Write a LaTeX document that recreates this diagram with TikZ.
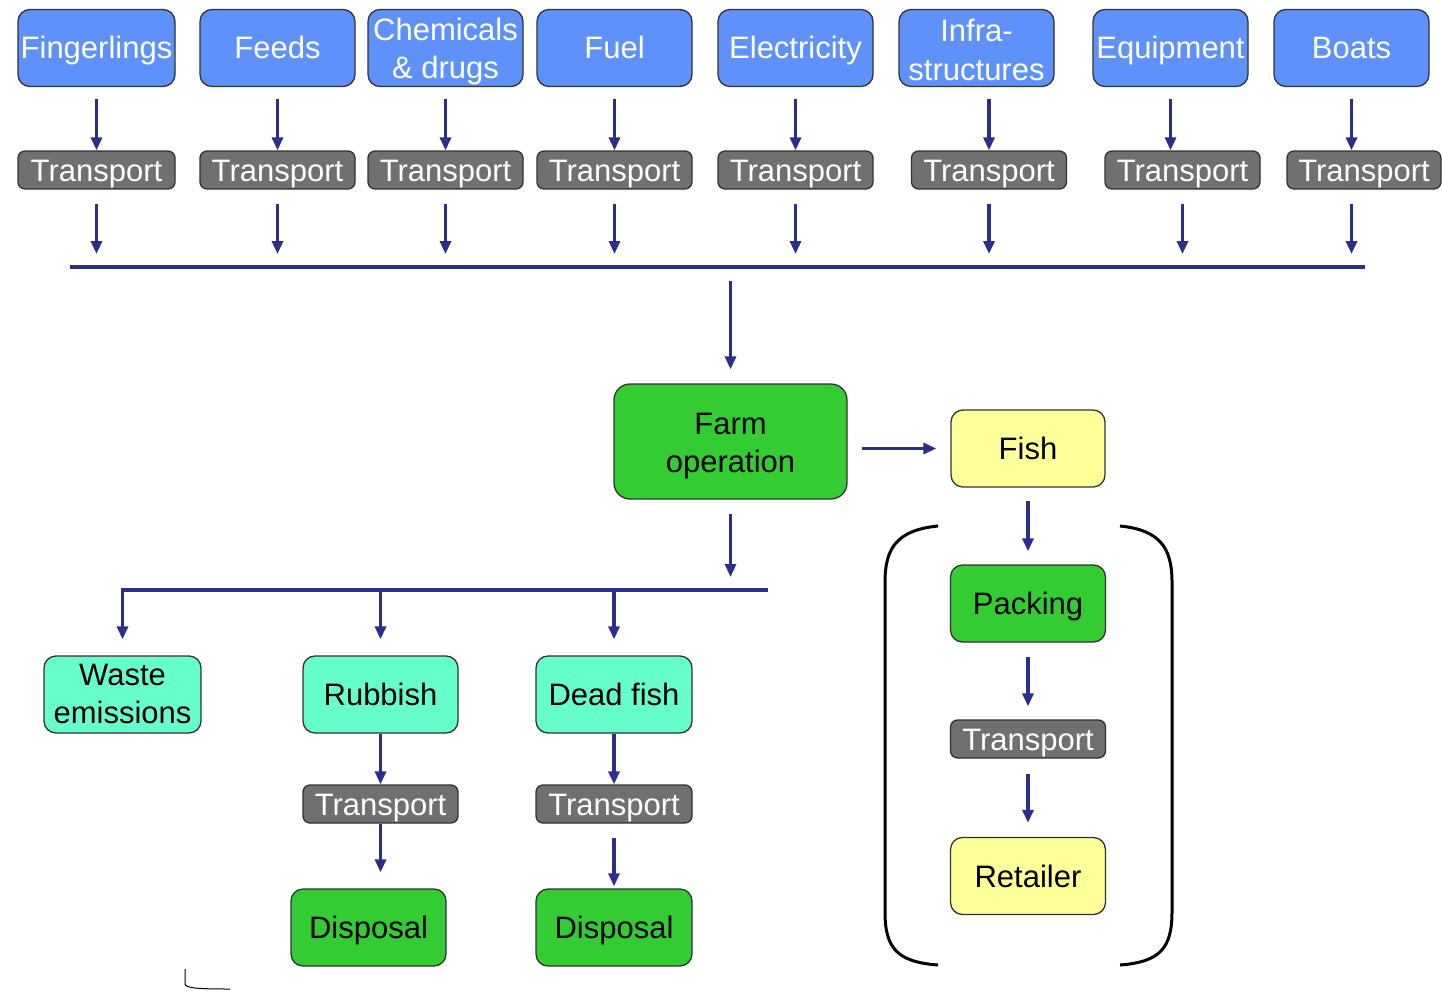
\documentclass[tikz,border=0pt]{standalone}
\usepackage{fontspec}
\setmainfont{Liberation Sans}
\usetikzlibrary{arrows.meta}
\definecolor{inblue}{RGB}{94,146,250}
\definecolor{tgray}{RGB}{112,112,112}
\definecolor{navy}{RGB}{44,46,142}
\definecolor{fgreen}{RGB}{51,204,51}
\definecolor{aqua}{RGB}{102,255,204}
\definecolor{pyellow}{RGB}{255,255,153}
\definecolor{rimcol}{RGB}{50,50,50}

\begin{document}
\begin{tikzpicture}[x=1pt,y=-1pt,
  box/.style={draw=rimcol, line width=1.3pt, rounded corners=12pt, inner sep=0pt,
    minimum width=155pt, minimum height=77pt, align=center,
    font=\fontsize{31}{38}\selectfont},
  one/.style={text height=22pt, text depth=0pt},
  % two lines: the box height is measured down to the last baseline
  two/.style={text height=#1, text depth=0pt},
  inbox/.style={box, fill=inblue, text=white},
  tbox/.style={box, fill=tgray, text=white, minimum height=38pt, rounded corners=7pt, one},
  gbox/.style={box, fill=fgreen, text=black},
  abox/.style={box, fill=aqua, text=black},
  ybox/.style={box, fill=pyellow, text=black},
  arr/.style={draw=navy, line width=3.6pt, -{Triangle[length=13pt,width=11pt]}},
  bus/.style={draw=navy, line width=3.6pt},
  brace/.style={draw=black, line width=3pt},
]
\useasboundingbox (0,0) rectangle (1442,990);

% input boxes
\node[inbox, one, minimum width=157pt] (b1) at (96.5,48) {Fingerlings};
\node[inbox, one] (b2) at (277.5,48) {Feeds};
\node[inbox, two=60pt] (b3) at (445.5,48) {Chemicals\\\& drugs};
\node[inbox, one] (b4) at (614.5,48) {Fuel};
\node[inbox, one] (b5) at (795.5,48) {Electricity};
\node[inbox, two=64pt] (b6) at (976.5,48) {Infra-\\structures};
\node[inbox, one] (b7) at (1170.5,48) {Equipment};
\node[inbox, one] (b8) at (1351.5,48) {Boats};

% transport of each input
\node[tbox, minimum width=157pt] (t1) at (96.5,170) {Transport};
\node[tbox] (t2) at (277.5,170) {Transport};
\node[tbox] (t3) at (445.5,170) {Transport};
\node[tbox] (t4) at (614.5,170) {Transport};
\node[tbox] (t5) at (795.5,170) {Transport};
\node[tbox] (t6) at (989,170) {Transport};
\node[tbox] (t7) at (1182.5,170) {Transport};
\node[tbox, minimum width=154pt] (t8) at (1364,170) {Transport};

% collecting line
\coordinate (busL) at (70,267);
\coordinate (busR) at (1365,267);
\draw[bus] (busL) -- (busR);

% input -> transport
\foreach \i in {1,...,5}{
  \draw[arr, shorten <=12pt] (b\i.south) -- (t\i.north);
}
\draw[arr, shorten <=12pt] (t6.north |- b6.south) -- (t6.north);
\draw[arr, shorten <=12pt] (b7.south) -- (b7.south |- t7.north);
\draw[arr, shorten <=12pt] (b8.south) -- (b8.south |- t8.north);

% transport -> collecting line
\foreach \i in {1,...,7}{
  \draw[arr, shorten <=14pt, shorten >=13pt] (t\i.south) -- (t\i.south |- busL);
}
\draw[arr, shorten <=14pt, shorten >=13pt] (b8.south |- t8.south) -- (b8.south |- busL);

% farm and products
\node[gbox, minimum width=233pt, minimum height=115pt, rounded corners=16pt, two=61pt] (farm) at (730.5,441.5) {Farm\\operation};
\node[ybox, one, minimum width=154pt] (fish) at (1028,448.5) {Fish};

\draw[arr, shorten <=14pt, shorten >=14pt] (farm.north |- busL) -- (farm.north);
\draw[arr, shorten <=14pt, shorten >=14pt] (farm.east |- fish.west) -- (fish.west);

% waste branch
\coordinate (br2) at (768,590);
\node[abox, minimum width=157pt, two=57pt] (wst) at (122.5,694.5) {Waste\\emissions};
\node[abox, one] (rub) at (380.5,694.5) {Rubbish};
\node[abox, one, minimum width=156pt] (dead) at (614,694.5) {Dead fish};
\node[tbox] (tr1) at (380.5,804) {Transport};
\node[tbox, minimum width=156pt] (tr2) at (614,804) {Transport};
\node[gbox, one] (dis1) at (368.5,927.5) {Disposal};
\node[gbox, one, minimum width=156pt] (dis2) at (614,927.5) {Disposal};

\draw[arr, shorten <=14pt, shorten >=13pt] (farm.south) -- (farm.south |- br2);
\draw[arr, shorten >=16pt] (br2) -| (wst.north);
\draw[arr, shorten >=16pt] (rub.north |- br2) -- (rub.north);
\draw[arr, shorten >=16pt] (dead.north |- br2) -- (dead.north);
\draw[arr] (rub.south) -- (tr1.north);
\draw[arr] (dead.south) -- (tr2.north);
\draw[arr, shorten >=16pt] (tr1.south) -- (tr1.south |- dis1.north);
\draw[arr, shorten <=14pt, shorten >=2pt] (tr2.south) -- (dis2.north);

% distribution chain
\node[gbox, one, minimum width=155pt] (pack) at (1028,603.5) {Packing};
\node[tbox] (tr3) at (1028,739) {Transport};
\node[ybox, one] (ret) at (1028,876) {Retailer};

\draw[arr, shorten <=13pt, shorten >=13pt] (fish.south) -- (pack.north);
\draw[arr, shorten <=14pt, shorten >=13pt] (pack.south) -- (tr3.north);
\draw[arr, shorten <=15pt, shorten >=14pt] (tr3.south) -- (ret.north);

% brackets round the chain
\draw[brace] (938,526) .. controls (897,530) and (885,548) .. (885,582)
  -- (885,912) .. controls (885,948) and (897,962) .. (938,965);
\draw[brace] (1120,526) .. controls (1160,530) and (1172,548) .. (1172,582)
  -- (1172,912) .. controls (1172,948) and (1160,962) .. (1120,965);

% small corner mark
\draw[line width=1pt] (185,969) -- (185,984) .. controls (186,988) and (196,989) .. (230,989);
\end{tikzpicture}
\end{document}
